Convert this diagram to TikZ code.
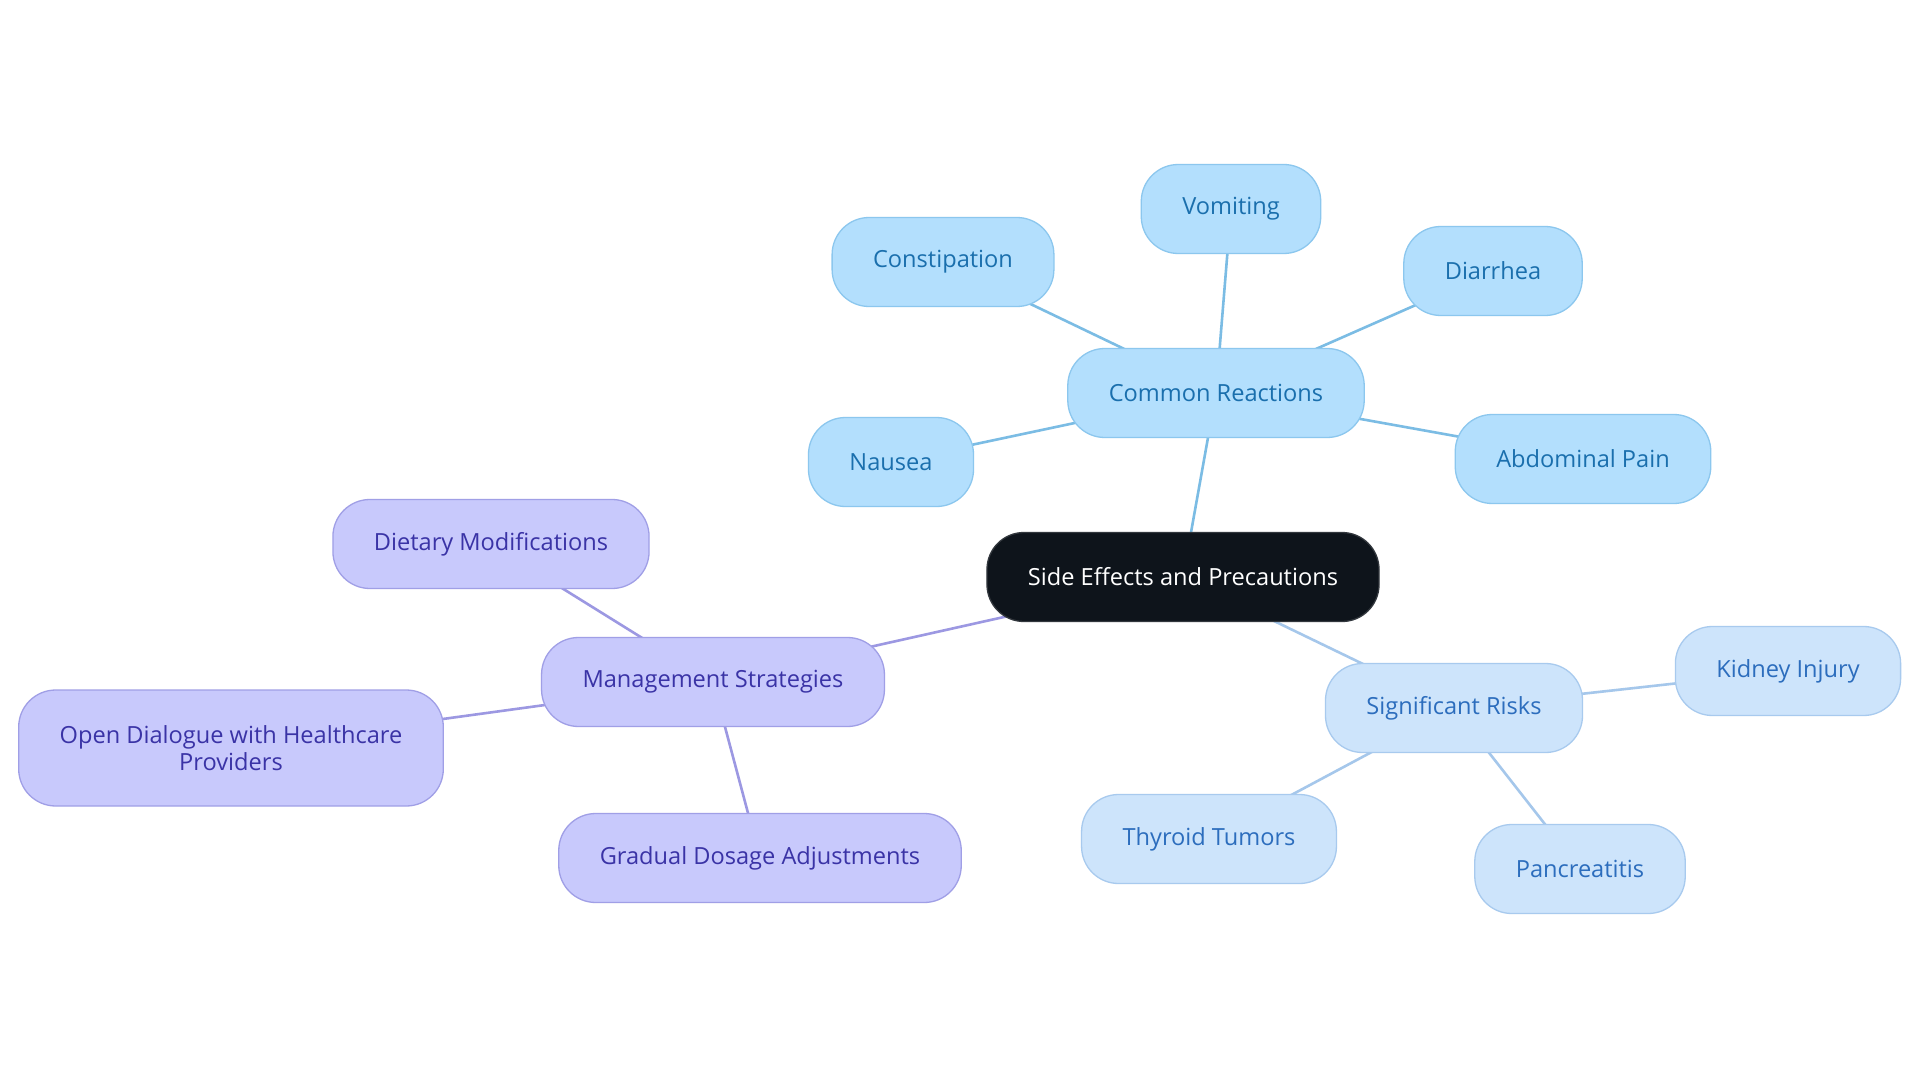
\documentclass[tikz,border=0pt]{standalone}
\usepackage{fontspec}
\setmainfont{Open Sans}
\usetikzlibrary{backgrounds}
\definecolor{rootfill}{HTML}{0E141B}
\definecolor{reactfill}{HTML}{B3DFFD}
\definecolor{reactline}{HTML}{8CC7EE}
\definecolor{reacttext}{HTML}{1A6FAD}
\definecolor{reactedge}{HTML}{7BBCE4}
\definecolor{riskfill}{HTML}{CDE4FB}
\definecolor{riskline}{HTML}{A8CAEE}
\definecolor{risktext}{HTML}{2C6DBD}
\definecolor{riskedge}{HTML}{A5C7EB}
\definecolor{mgmtfill}{HTML}{C8C9FC}
\definecolor{mgmtline}{HTML}{A09FE6}
\definecolor{mgmttext}{HTML}{3A33A6}
\definecolor{mgmtedge}{HTML}{9C98E2}
\begin{document}
\begin{tikzpicture}[x=1pt,y=-1pt,font=\fontsize{23.6}{27}\selectfont,
	bubble/.style={rectangle,rounded corners=37pt,inner xsep=41pt,inner ysep=0pt,minimum height=89pt,line width=1.3pt,align=center},
	rootnode/.style={bubble,fill=rootfill,draw=rootfill!85!white,text=white},
	reactnode/.style={bubble,fill=reactfill,draw=reactline,text=reacttext},
	risknode/.style={bubble,fill=riskfill,draw=riskline,text=risktext},
	mgmtnode/.style={bubble,fill=mgmtfill,draw=mgmtline,text=mgmttext},
	link/.style={line width=2.6pt}]
	\useasboundingbox (0,0) rectangle (1920,1083);
	% centre
	\node[rootnode] (root) at (1183,577) {Side Effects and Precautions};
	% common reactions
	\node[reactnode] (react) at (1216,393) {Common Reactions};
	\node[reactnode] (constip) at (943,262) {Constipation};
	\node[reactnode] (vomit) at (1231,209) {Vomiting};
	\node[reactnode] (diarr) at (1493,271) {Diarrhea};
	\node[reactnode] (nausea) at (891,462) {Nausea};
	\node[reactnode] (abdo) at (1583,459) {Abdominal Pain};
	% significant risks
	\node[risknode] (risks) at (1454,708) {Significant Risks};
	\node[risknode] (kidney) at (1788,671) {Kidney Injury};
	\node[risknode] (thyroid) at (1209,839) {Thyroid Tumors};
	\node[risknode] (pancr) at (1580,869) {Pancreatitis};
	% management
	\node[mgmtnode] (mgmt) at (713,682) {Management Strategies};
	\node[mgmtnode] (diet) at (491,544) {Dietary Modifications};
	\node[mgmtnode,minimum height=116pt] (dialog) at (231,748) {Open Dialogue with Healthcare\\Providers};
	\node[mgmtnode] (dosage) at (760,858) {Gradual Dosage Adjustments};
	\begin{scope}[on background layer]
		\fill[white] (0,0) rectangle (1920,1083);
		\draw[link,reactedge] (root.center) -- (react.center);
		\draw[link,riskedge] (root.center) -- (risks.center);
		\draw[link,mgmtedge] (root.center) -- (mgmt.center);
		\foreach \leaf in {constip,vomit,diarr,nausea,abdo}
			\draw[link,reactedge] (react.center) -- (\leaf.center);
		\foreach \leaf in {kidney,thyroid,pancr}
			\draw[link,riskedge] (risks.center) -- (\leaf.center);
		\foreach \leaf in {diet,dialog,dosage}
			\draw[link,mgmtedge] (mgmt.center) -- (\leaf.center);
	\end{scope}
\end{tikzpicture}
\end{document}
